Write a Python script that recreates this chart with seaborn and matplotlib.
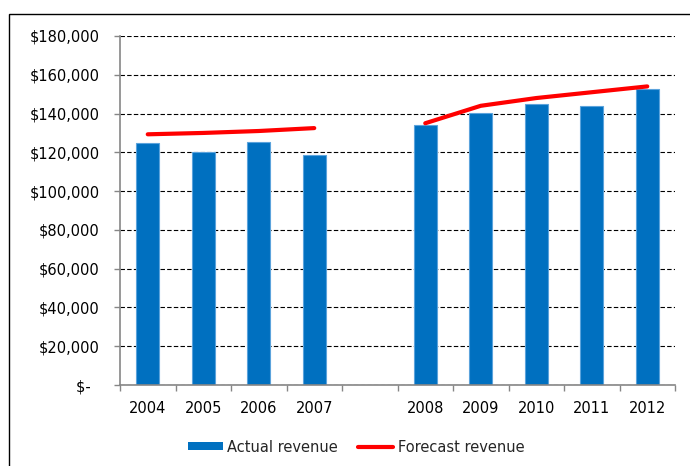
import matplotlib
matplotlib.use("Agg")
import matplotlib.pyplot as plt
import pandas as pd
import seaborn as sns
from matplotlib.lines import Line2D
from matplotlib.patches import Patch, Rectangle
from matplotlib.ticker import FixedLocator

# --- data ---
years = ["2004", "2005", "2006", "2007", "2008", "2009", "2010", "2011", "2012"]
actual_revenue = [125000, 120000, 125500, 118500, 134000, 140500, 145000, 144000, 152500]
forecast_revenue = [129300, 130000, 131000, 132500, 135000, 144000, 148000, 151000, 154000]
# the chart leaves an empty slot between the two periods
order = ["2004", "2005", "2006", "2007", " ", "2008", "2009", "2010", "2011", "2012"]
segments = [["2004", "2005", "2006", "2007"], ["2008", "2009", "2010", "2011", "2012"]]
y_ticks = [0, 20000, 40000, 60000, 80000, 100000, 120000, 140000, 160000, 180000]

BAR_BLUE = "#0070C0"
LINE_RED = "#FF0000"
AXIS_GREY = "#868686"
FS = 10.5

sns.set_theme(style="white")
plt.rcParams["font.family"] = ["DejaVu Sans"]

df = pd.DataFrame({"year": years, "actual": actual_revenue, "forecast": forecast_revenue})

fig = plt.figure(figsize=(6.9, 4.66), dpi=100)
ax = fig.add_axes([120 / 690, 1 - 385 / 466, 555 / 690, 349 / 466])

sns.barplot(data=df, x="year", y="actual", order=order, color=BAR_BLUE,
            width=0.42, edgecolor="#5BA3DC", linewidth=0.8, saturation=1, ax=ax)

# forecast line, broken at the gap
for seg in segments:
    seg_df = df[df["year"].isin(seg)].copy()
    seg_df["pos"] = [order.index(y) for y in seg_df["year"]]
    sns.lineplot(data=seg_df, x="pos", y="forecast", color=LINE_RED, lw=3,
                 solid_capstyle="round", ax=ax)

ax.set_xlim(-0.5, len(order) - 0.5)
ax.set_ylim(0, 180000)
ax.set_yticks(y_ticks)
ax.set_yticklabels(["$-  "] + [f"${v:,.0f}" for v in y_ticks[1:]])
ax.set_xticks(range(len(order)))
ax.set_xticklabels(order)
ax.xaxis.set_minor_locator(FixedLocator([i - 0.5 for i in range(len(order) + 1)]))
ax.set_xlabel("")
ax.set_ylabel("")

ax.grid(axis="y", color="black", linestyle=(0, (4, 2)), linewidth=0.8)
ax.set_axisbelow(True)

for side in ["top", "right"]:
    ax.spines[side].set_visible(False)
for side in ["left", "bottom"]:
    ax.spines[side].set_color(AXIS_GREY)
    ax.spines[side].set_linewidth(1.2)

ax.tick_params(axis="y", which="major", left=True, length=4.5, width=1,
               color=AXIS_GREY, pad=10, labelsize=FS, labelcolor="black")
ax.tick_params(axis="x", which="major", bottom=False, length=0, pad=11.5,
               labelsize=FS, labelcolor="black")
ax.tick_params(axis="x", which="minor", bottom=True, length=4, width=1,
               color=AXIS_GREY)

handles = [
    Patch(facecolor=BAR_BLUE, edgecolor="none", label="Actual revenue"),
    Line2D([0], [0], color=LINE_RED, lw=3, label="Forecast revenue"),
]
fig.legend(handles=handles, loc="center", bbox_to_anchor=(356 / 690, 1 - 447 / 466),
           ncol=2, frameon=False, fontsize=FS, handlelength=2.4, handleheight=0.5,
           handletextpad=0.3, columnspacing=1.4)

# outer chart border (runs off the right and bottom edge in the reference)
fig.patches.append(Rectangle((9 / 690, -0.1), 1.2, 1.1 - 14 / 466, transform=fig.transFigure,
                             fill=False, edgecolor="black", linewidth=1))

fig.savefig("out.png", dpi=100)
